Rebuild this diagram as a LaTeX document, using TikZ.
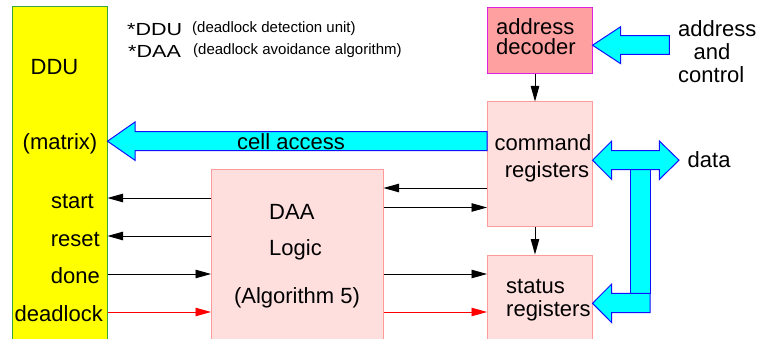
\documentclass[tikz,border=0pt]{standalone}
\usepackage{fontspec}
\setmainfont{Liberation Sans}
\usetikzlibrary{arrows.meta,calc}

\definecolor{ddufill}{HTML}{FFFF00}
\definecolor{ddudraw}{HTML}{3AA53A}
\definecolor{decfill}{HTML}{FFA0A0}
\definecolor{decdraw}{HTML}{E020E0}
\definecolor{regfill}{HTML}{FFDEDE}
\definecolor{regdraw}{HTML}{FF9A9A}
\definecolor{busfill}{HTML}{00FFFF}
\definecolor{busdraw}{HTML}{1010FF}

\tikzset{
  lbl/.style={font=\fontsize{22}{24}\selectfont, inner sep=0pt},
  note/.style={font=\fontsize{15}{18}\selectfont, inner sep=0pt},
  abbr/.style={font=\fontsize{17.5}{18}\selectfont, inner sep=0pt, xscale=1.23},
  box/.style={draw, line width=1pt, inner sep=0pt},
  regbox/.style={box, draw=regdraw, fill=regfill, minimum width=104.5pt},
  sig/.style={line width=0.9pt, -{Triangle[length=15.5pt,width=8.5pt]}},
  redsig/.style={sig, red},
  bus/.style={fill=busfill, draw=busdraw, line width=1pt, line join=miter},
}

\begin{document}
\begin{tikzpicture}[x=1pt,y=-1pt]
\useasboundingbox (0,0) rectangle (760,339);
\clip (0,0) rectangle (760,339);

% ---- blocks ----
\node[box, draw=ddudraw, fill=ddufill, minimum width=95pt, minimum height=340pt] (ddu) at (59.5,177) {};
\node[box, draw=decdraw, fill=decfill, minimum width=104.5pt, minimum height=66.5pt] (adec) at (539.75,40.75) {};
\node[regbox, minimum height=124.5pt] (cmd) at (539.75,164.25) {};
\node[regbox, minimum height=100pt] (stat) at (539.75,305) {};
\node[box, draw=regdraw, fill=regfill, minimum width=171.5pt, minimum height=180pt] (daa) at (297.25,259.5) {};

% ---- DDU labels ----
\node[lbl, anchor=base] (tddu) at (54.5,74.3) {DDU};
\node[lbl, anchor=base] (tmatrix) at (60,150) {(matrix)};
\node[lbl, anchor=base east] (lstart) at (94,208) {start};
\node[lbl, anchor=base east] (lreset) at (100,246) {reset};
\node[lbl, anchor=base east] (ldone) at (100,283.5) {done};
\node[lbl, anchor=base east] (ldead) at (103,321.5) {deadlock};

% ---- legend ----
\node[abbr, anchor=base west] (kddu) at (127,35.5) {*DDU};
\node[note, anchor=base west] (kdduTxt) at (192,32.5) {(deadlock detection unit)};
\node[abbr, anchor=base west] (kdaa) at (128,58) {*DAA};
\node[note, anchor=base west] (kdaaTxt) at (193,55) {(deadlock avoidance algorithm)};

% ---- block texts ----
\node[lbl, anchor=base west] (tadec1) at (496,34.5) {address};
\node[lbl, anchor=base west] (tadec2) at (496,55) {decoder};
\node[lbl, anchor=base] (tcmd1) at (543,150.5) {command};
\node[lbl, anchor=base] (tcmd2) at (547,178) {registers};
\node[lbl, anchor=base west] (tst1) at (506,293.5) {status};
\node[lbl, anchor=base west] (tst2) at (506,316.5) {registers};
\node[lbl, anchor=base west] (tdaa1) at (269,219) {DAA};
\node[lbl, anchor=base west] (tdaa2) at (269,255.5) {Logic};
\node[lbl, anchor=base] (tdaa3) at (297,303) {(Algorithm 5)};

% ---- outside labels ----
\node[lbl, anchor=base west] (tac1) at (678,37) {address};
\node[lbl, anchor=base] (tac2) at (712,60) {and};
\node[lbl, anchor=base west] (tac3) at (678,83) {control};
\node[lbl, anchor=base west] (tdata) at (687.5,167.5) {data};

% ---- signal levels ----
\coordinate (vStart) at (0,198);
\coordinate (vReset) at (0,236);
\coordinate (vDone) at (0,274);
\coordinate (vDead) at (0,312);
\coordinate (vToDaa) at (0,188);
\coordinate (vToCmd) at (0,207.5);
\coordinate (colx) at (535,0);

% ---- thin signal arrows ----
\draw[sig] (daa.west |- vStart) -- (ddu.east |- vStart);
\draw[sig] (daa.west |- vReset) -- (ddu.east |- vReset);
\draw[sig] (ddu.east |- vDone) -- (daa.west |- vDone);
\draw[redsig] (ddu.east |- vDead) -- (daa.west |- vDead);
\draw[sig] (cmd.west |- vToDaa) -- (daa.east |- vToDaa);
\draw[sig] (daa.east |- vToCmd) -- (cmd.west |- vToCmd);
\draw[sig] (daa.east |- vDone) -- (stat.west |- vDone);
\draw[redsig] (daa.east |- vDead) -- (stat.west |- vDead);
\draw[sig] (adec.south -| colx) -- (cmd.north -| colx);
\draw[sig] (cmd.south -| colx) -- (stat.north -| colx);

% ---- wide bus arrows ----
% cell access: command registers -> DDU
\draw[bus] (cmd.west |- 0,131.7) -- (135,131.7) -- (135,122) -- (ddu.east |- 0,141.2)
  -- (135,160.3) -- (135,150.7) -- (cmd.west |- 0,150.7) -- cycle;
\node[lbl, anchor=base] (tcell) at (291,150) {cell access};

% address and control -> address decoder
\draw[bus] (669.3,35.7) -- (620.7,35.7) -- (620.7,26.7) -- (adec.east |- 0,45.2)
  -- (620.7,63.7) -- (620.7,54.3) -- (669.3,54.3) -- cycle;

% data bus: vertical branch, down to status registers
\draw[bus] (630.7,165) rectangle (650,293.3);
\draw[bus] (650,293.3) -- (611.7,293.3) -- (611.7,284) -- (stat.east |- 0,303.3)
  -- (611.7,322.7) -- (611.7,312.7) -- (650,312.7) -- cycle;
% data bus: two-headed arrow at command registers
\draw[bus] (cmd.east |- 0,160.2) -- (611.7,141) -- (611.7,150.7) -- (659.3,150.7)
  -- (659.3,141) -- (679,160.2) -- (659.3,179.5) -- (659.3,169.6) -- (611.7,169.6)
  -- (611.7,179.5) -- cycle;
\end{tikzpicture}
\end{document}
